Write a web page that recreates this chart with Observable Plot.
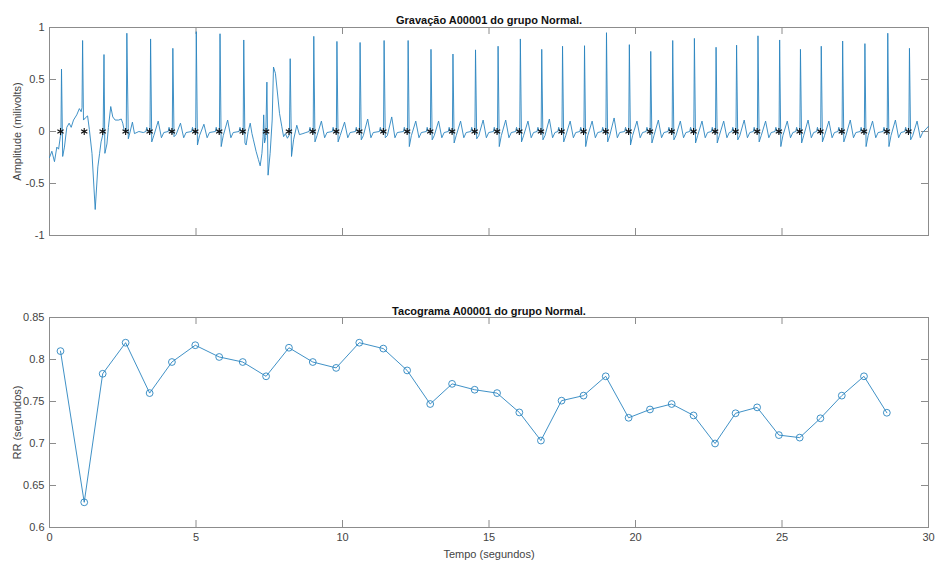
<!DOCTYPE html>
<html><head><meta charset="utf-8">
<script src="https://cdn.jsdelivr.net/npm/d3@7"></script>
<script src="https://cdn.jsdelivr.net/npm/@observablehq/plot@0.6"></script>
<style>
body{margin:0;background:#fff;font-family:"Liberation Sans",Arial,sans-serif}
#chart svg{display:block;overflow:visible}
</style></head><body><div id="chart"></div>
<script>
// ---- data ----
const titleTop = "Gravação A00001 do grupo Normal.";
const titleBottom = "Tacograma A00001 do grupo Normal.";
const labelAmp = "Amplitude (milivolts)";
const labelRR = "RR (segundos)";
const labelTime = "Tempo (segundos)";

const xTicks = [0, 5, 10, 15, 20, 25, 30];
const ampTicks = [-1, -0.5, 0, 0.5, 1];
const rrTicks = [0.6, 0.65, 0.7, 0.75, 0.8, 0.85];

// R-peak detection times (s) — asterisks
const rTimes = [0.375, 1.185, 1.815, 2.598, 3.418, 4.178, 4.975, 5.792, 6.595, 7.392,
  8.172, 8.986, 9.783, 10.573, 11.393, 12.206, 12.993, 13.74, 14.511, 15.275,
  16.035, 16.772, 17.476, 18.227, 18.984, 19.764, 20.494, 21.235, 21.982, 22.715,
  23.415, 24.151, 24.894, 25.604, 26.311, 27.041, 27.798, 28.578, 29.315];

// RR intervals (s), tachogram
const rrValues = [0.81, 0.63, 0.783, 0.82, 0.76, 0.797, 0.817, 0.803, 0.797, 0.78,
  0.814, 0.797, 0.79, 0.82, 0.813, 0.787, 0.747, 0.771, 0.764, 0.76,
  0.737, 0.7035, 0.751, 0.757, 0.78, 0.7306, 0.7405, 0.747, 0.7334, 0.70,
  0.736, 0.743, 0.71, 0.707, 0.73, 0.757, 0.78, 0.7366];

// ECG trace vertices [time s, amplitude mV]
const ecgPoints = [
[0.00,-0.25],[0.08,-0.19],[0.17,-0.29],[0.25,-0.15],[0.31,-0.17],[0.37,-0.05],[0.39,-0.03],[0.41,0.60],[0.45,-0.24],[0.51,-0.15],[0.59,0.04],[0.67,0.08],[0.74,0.04],[0.82,0.11],[0.93,0.16],[1.02,0.22],[1.08,0.19],[1.11,0.23],[1.13,0.875],[1.16,0.11],[1.22,0.13],[1.30,0.15],[1.36,0.02],[1.45,-0.21],[1.56,-0.75],[1.65,-0.34],[1.71,-0.21],[1.76,-0.10],[1.83,-0.02],[1.86,0.74],[1.89,-0.21],[1.96,-0.12],[2.01,0.04],[2.09,0.24],[2.16,0.14],[2.24,0.11],[2.36,0.11],[2.45,0.12],[2.50,0.08],[2.55,0.01],[2.62,0.0],[2.64,0.945],[2.69,-0.07],[2.72,-0.04],[2.83,0.09],[2.90,-0.02],[3.05,0.0],[3.20,-0.01],
[3.29,0],[3.32,0.04],[3.36,0],[3.43,-0.02],[3.45,0.89],[3.49,-0.10],[3.56,-0.04],[3.71,0.10],[3.82,-0.06],[3.90,-0.01],
[4.05,0],[4.08,0.04],[4.12,0],[4.19,-0.02],[4.21,0.80],[4.25,-0.05],[4.32,-0.03],[4.47,0.08],[4.58,-0.06],[4.66,-0.01],
[4.85,0],[4.88,0.04],[4.92,0],[4.99,-0.02],[5.01,0.96],[5.05,-0.13],[5.12,-0.04],[5.27,0.07],[5.38,-0.06],[5.46,-0.01],
[5.66,0],[5.69,0.04],[5.73,0],[5.80,-0.02],[5.82,0.94],[5.86,-0.145],[5.93,-0.04],[6.08,0.11],[6.19,-0.06],[6.27,-0.01],
[6.47,0],[6.50,0.04],[6.54,0],[6.61,-0.02],[6.63,0.88],[6.67,-0.11],[6.71,-0.13],[6.78,0.0],[6.85,0.08],[6.91,-0.02],[6.96,-0.08],[7.05,-0.19],[7.13,-0.27],[7.19,-0.33],[7.25,-0.21],[7.29,-0.05],[7.31,0.16],[7.34,-0.11],[7.38,-0.06],[7.42,0.475],[7.46,-0.42],[7.53,-0.21],[7.60,0.11],[7.645,0.62],[7.71,0.56],[7.78,0.37],[7.85,0.175],[7.93,0.045],[7.99,-0.05],[8.05,-0.02],[8.12,-0.065],[8.19,-0.03],[8.215,0.70],[8.26,-0.24],[8.33,-0.08],[8.44,0.06],[8.53,-0.03],[8.65,-0.02],[8.75,-0.01],
[8.86,0],[8.89,0.04],[8.93,0],[9.00,-0.02],[9.02,0.915],[9.06,-0.10],[9.13,-0.04],[9.28,0.10],[9.39,-0.06],[9.47,-0.01],
[9.65,0],[9.68,0.04],[9.72,0],[9.79,-0.02],[9.81,0.866],[9.85,-0.10],[9.92,-0.04],[10.07,0.09],[10.18,-0.06],[10.26,-0.01],
[10.44,0],[10.47,0.04],[10.51,0],[10.58,-0.02],[10.60,0.856],[10.64,-0.08],[10.71,-0.04],[10.86,0.12],[10.97,-0.06],[11.05,-0.01],
[11.26,0],[11.29,0.04],[11.33,0],[11.40,-0.02],[11.42,0.875],[11.46,-0.06],[11.53,-0.04],[11.68,0.14],[11.79,-0.06],[11.87,-0.01],
[12.08,0],[12.11,0.04],[12.15,0],[12.22,-0.02],[12.24,0.875],[12.28,-0.145],[12.35,-0.04],[12.50,0.10],[12.61,-0.06],[12.69,-0.01],
[12.86,0],[12.89,0.04],[12.93,0],[13.00,-0.02],[13.02,0.79],[13.06,-0.08],[13.13,-0.04],[13.28,0.10],[13.39,-0.06],[13.47,-0.01],
[13.61,0],[13.64,0.04],[13.68,0],[13.75,-0.02],[13.77,0.745],[13.81,-0.11],[13.88,-0.04],[14.03,0.10],[14.14,-0.06],[14.22,-0.01],
[14.38,0],[14.41,0.04],[14.45,0],[14.52,-0.02],[14.54,0.785],[14.58,-0.07],[14.65,-0.04],[14.80,0.11],[14.91,-0.06],[14.99,-0.01],
[15.15,0],[15.18,0.04],[15.22,0],[15.29,-0.02],[15.31,0.82],[15.35,-0.145],[15.42,-0.04],[15.57,0.11],[15.68,-0.06],[15.76,-0.01],
[15.91,0],[15.94,0.04],[15.98,0],[16.05,-0.02],[16.07,0.89],[16.11,-0.10],[16.18,-0.04],[16.33,0.10],[16.44,-0.06],[16.52,-0.01],
[16.64,0],[16.67,0.04],[16.71,0],[16.78,-0.02],[16.80,0.79],[16.84,-0.08],[16.91,-0.04],[17.06,0.12],[17.17,-0.06],[17.25,-0.01],
[17.35,0],[17.38,0.04],[17.42,0],[17.49,-0.02],[17.51,0.82],[17.55,-0.10],[17.62,-0.04],[17.77,0.10],[17.88,-0.06],[17.96,-0.01],
[18.10,0],[18.13,0.04],[18.17,0],[18.24,-0.02],[18.26,0.825],[18.30,-0.145],[18.37,-0.04],[18.52,0.10],[18.63,-0.06],[18.71,-0.01],
[18.85,0],[18.88,0.04],[18.92,0],[18.99,-0.02],[19.01,0.95],[19.05,-0.10],[19.12,-0.04],[19.27,0.13],[19.38,-0.06],[19.46,-0.01],
[19.63,0],[19.66,0.04],[19.70,0],[19.77,-0.02],[19.79,0.835],[19.83,-0.13],[19.90,-0.04],[20.05,0.10],[20.16,-0.06],[20.24,-0.01],
[20.36,0],[20.39,0.04],[20.43,0],[20.50,-0.02],[20.52,0.77],[20.56,-0.11],[20.63,-0.04],[20.78,0.11],[20.89,-0.06],[20.97,-0.01],
[21.11,0],[21.14,0.04],[21.18,0],[21.25,-0.02],[21.27,0.875],[21.31,-0.08],[21.38,-0.04],[21.53,0.10],[21.64,-0.06],[21.72,-0.01],
[21.85,0],[21.88,0.04],[21.92,0],[21.99,-0.02],[22.01,0.895],[22.05,-0.11],[22.12,-0.04],[22.27,0.10],[22.38,-0.06],[22.46,-0.01],
[22.59,0],[22.62,0.04],[22.66,0],[22.73,-0.02],[22.75,0.81],[22.79,-0.11],[22.86,-0.04],[23.01,0.10],[23.12,-0.06],[23.20,-0.01],
[23.29,0],[23.32,0.04],[23.36,0],[23.43,-0.02],[23.45,0.83],[23.49,-0.08],[23.56,-0.04],[23.71,0.11],[23.82,-0.06],[23.90,-0.01],
[24.02,0],[24.05,0.04],[24.09,0],[24.16,-0.02],[24.18,0.92],[24.22,-0.10],[24.29,-0.04],[24.44,0.10],[24.55,-0.06],[24.63,-0.01],
[24.76,0],[24.79,0.04],[24.83,0],[24.90,-0.02],[24.92,0.88],[24.96,-0.145],[25.03,-0.04],[25.18,0.10],[25.29,-0.06],[25.37,-0.01],
[25.47,0],[25.50,0.04],[25.54,0],[25.61,-0.02],[25.63,0.79],[25.67,-0.11],[25.74,-0.04],[25.89,0.11],[26.00,-0.06],[26.08,-0.01],
[26.18,0],[26.21,0.04],[26.25,0],[26.32,-0.02],[26.34,0.82],[26.38,-0.10],[26.45,-0.04],[26.60,0.10],[26.71,-0.06],[26.79,-0.01],
[26.91,0],[26.94,0.04],[26.98,0],[27.05,-0.02],[27.07,0.87],[27.11,-0.10],[27.18,-0.04],[27.33,0.11],[27.44,-0.06],[27.52,-0.01],
[27.67,0],[27.70,0.04],[27.74,0],[27.81,-0.02],[27.83,0.845],[27.87,-0.145],[27.94,-0.04],[28.09,0.10],[28.20,-0.06],[28.28,-0.01],
[28.45,0],[28.48,0.04],[28.52,0],[28.59,-0.02],[28.61,0.945],[28.65,-0.145],[28.72,-0.04],[28.87,0.11],[28.98,-0.06],[29.06,-0.01],
[29.19,0],[29.22,0.04],[29.26,0],[29.33,-0.02],[29.35,0.80],[29.39,-0.08],[29.46,-0.04],[29.61,0.10],[29.72,-0.06],[29.80,-0.01],[30.00,0.05]
];

// ---- layout / styles ----
const W = 937, ML = 49, MR = 9, TICK = 7;
const frameW = W - ML - MR;
const blue = "#2a84c0", boxColor = "#8c8c8c", textColor = "#444";
const innerX = xTicks.slice(1, -1);
const style = {fontFamily: "'Liberation Sans', Arial, sans-serif", fontSize: "11px", color: textColor, background: "white"};
const fmt = d => String(d);

function boxTicks(frameH, yTicksInner) {
  return [
    Plot.ruleX(innerX, {x: d => d, insetTop: frameH - TICK, stroke: boxColor}),
    Plot.ruleX(innerX, {x: d => d, insetBottom: frameH - TICK, stroke: boxColor}),
    Plot.ruleY(yTicksInner, {y: d => d, insetRight: frameW - TICK, stroke: boxColor}),
    Plot.ruleY(yTicksInner, {y: d => d, insetLeft: frameW - TICK, stroke: boxColor}),
    Plot.frame({stroke: boxColor})
  ];
}

// ---- top: ECG ----
const H1 = 290, MT1 = 27, MB1 = 55;
const ecgChart = Plot.plot({
  width: W, height: H1, marginLeft: ML, marginRight: MR, marginTop: MT1, marginBottom: MB1,
  style,
  x: {domain: [0, 30], axis: null},
  y: {domain: [-1, 1], axis: null},
  marks: [
    ...boxTicks(H1 - MT1 - MB1, ampTicks.slice(1, -1)),
    Plot.line(ecgPoints, {x: d => d[0], y: d => d[1], stroke: blue, strokeWidth: 0.9}),
    Plot.dot(rTimes, {x: d => d, y: () => 0, symbol: "asterisk", r: 3.4, stroke: "#111", strokeWidth: 1.1}),
    Plot.axisY(ampTicks, {anchor: "left", tickSize: 0, tickPadding: 5, tickFormat: fmt,
      label: labelAmp, labelAnchor: "center", labelOffset: 36, labelArrow: "none"}),
    Plot.text([titleTop], {frameAnchor: "top", lineAnchor: "bottom", dy: -4, fontWeight: "bold", fill: "#111", fontSize: 11})
  ]
});

// ---- bottom: tachogram ----
const H2 = 273, MT2 = 27, MB2 = 36;
const tacho = rrValues.map((v, i) => ({t: rTimes[i], rr: v}));
const tachoChart = Plot.plot({
  width: W, height: H2, marginLeft: ML, marginRight: MR, marginTop: MT2, marginBottom: MB2,
  style,
  x: {domain: [0, 30], axis: null},
  y: {domain: [0.6, 0.85], axis: null},
  marks: [
    ...boxTicks(H2 - MT2 - MB2, rrTicks.slice(1, -1)),
    Plot.line(tacho, {x: "t", y: "rr", stroke: blue, strokeWidth: 0.9}),
    Plot.dot(tacho, {x: "t", y: "rr", r: 3.4, stroke: blue, strokeWidth: 0.9, fill: "none"}),
    Plot.axisY(rrTicks, {anchor: "left", tickSize: 0, tickPadding: 5, tickFormat: fmt,
      label: labelRR, labelAnchor: "center", labelOffset: 36, labelArrow: "none"}),
    Plot.axisX(xTicks, {anchor: "bottom", tickSize: 0, tickPadding: 6, tickFormat: fmt,
      label: labelTime, labelAnchor: "center", labelOffset: 30, labelArrow: "none"}),
    Plot.text([titleBottom], {frameAnchor: "top", lineAnchor: "bottom", dy: -3, fontWeight: "bold", fill: "#111", fontSize: 11})
  ]
});

document.getElementById("chart").append(ecgChart, tachoChart);
</script></body></html>
